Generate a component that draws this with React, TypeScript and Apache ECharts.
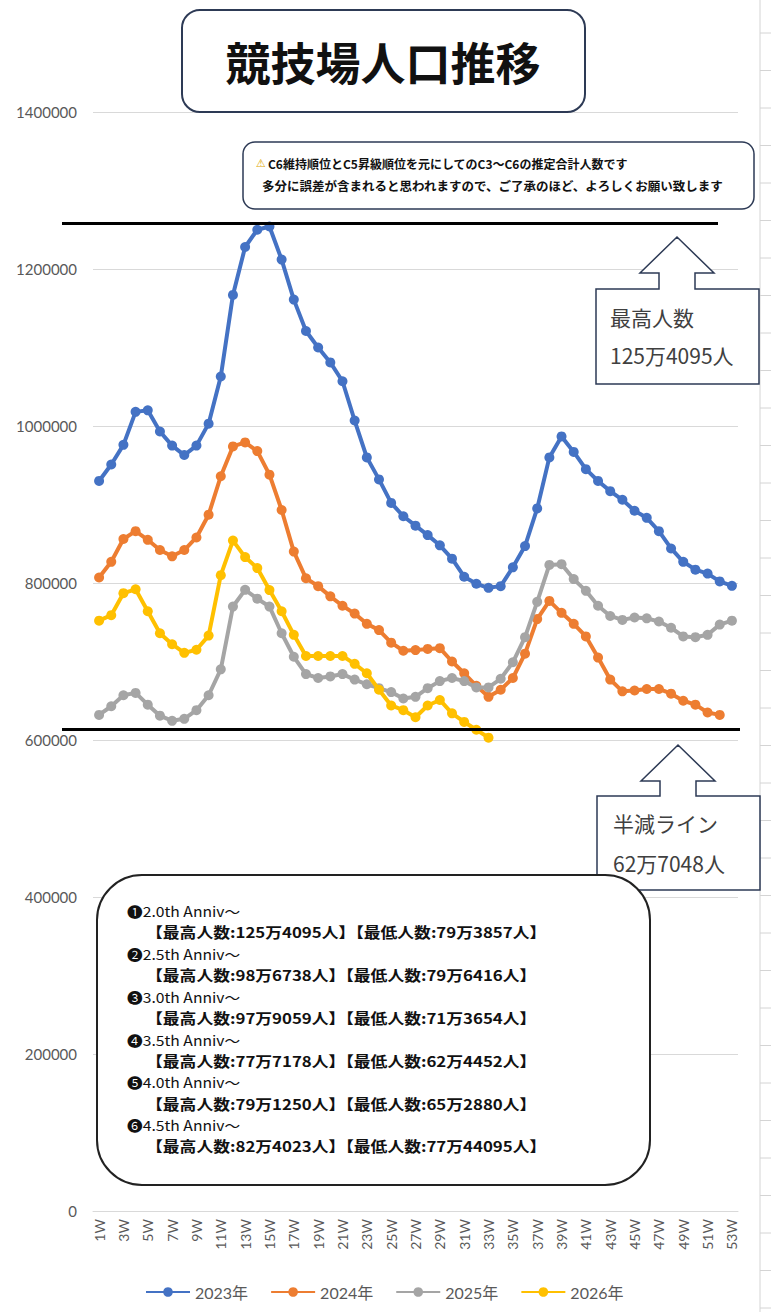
import { useEffect, useRef } from "react";
import * as echarts from "echarts";

const weeks = [
  "1W", "2W", "3W", "4W", "5W", "6W", "7W", "8W", "9W", "10W",
  "11W", "12W", "13W", "14W", "15W", "16W", "17W", "18W", "19W", "20W",
  "21W", "22W", "23W", "24W", "25W", "26W", "27W", "28W", "29W", "30W",
  "31W", "32W", "33W", "34W", "35W", "36W", "37W", "38W", "39W", "40W",
  "41W", "42W", "43W", "44W", "45W", "46W", "47W", "48W", "49W", "50W",
  "51W", "52W", "53W",
];

const seriesNames = ["2023年", "2024年", "2025年", "2026年"];
const seriesColors = ["#4472C4", "#ED7D31", "#A5A5A5", "#FFC000"];

const pop2023 = [
  930000, 951000, 976000, 1018000, 1020000, 993000, 975000, 963000, 975000, 1003000,
  1063000, 1167000, 1228000, 1250000, 1254095, 1212000, 1161000, 1121000, 1100000, 1081000,
  1057000, 1007000, 960000, 932000, 902000, 885000, 873000, 861000, 848000, 831000,
  808000, 799000, 793857, 796000, 820000, 847000, 895000, 960000, 986738, 967000,
  945000, 930000, 917000, 906000, 892000, 883000, 866000, 844000, 827000, 817000,
  812000, 802000, 796416,
];

const pop2024 = [
  807000, 827000, 856000, 866000, 855000, 842000, 834000, 842000, 858000, 887000,
  936000, 974000, 979059, 968000, 938000, 893000, 840000, 806000, 796000, 783000,
  771000, 761000, 748000, 740000, 724000, 713654, 714500, 716000, 717000, 700000,
  685000, 669000, 655000, 664000, 679000, 710000, 754000, 777178, 762000, 748000,
  732000, 705000, 677000, 662000, 663000, 665000, 665000, 659000, 650000, 645000,
  635000, 632000,
];

const pop2025 = [
  632000, 643000, 657000, 660000, 645000, 631000, 624452, 627000, 638000, 657000,
  690000, 770000, 791250, 780000, 770000, 736000, 706000, 684000, 679000, 681000,
  684000, 677000, 671000, 666000, 661000, 652880, 655000, 666000, 675000, 679000,
  675000, 667000, 667000, 678000, 699000, 731000, 776000, 823000, 824023, 805000,
  790000, 771000, 758000, 753000, 756000, 755000, 751000, 743000, 732000, 731000,
  734000, 747000, 752000,
];

const pop2026 = [
  752000, 759000, 787000, 792000, 764000, 736000, 722000, 711000, 715000, 733000,
  810000, 854000, 833000, 819000, 791000, 764000, 734000, 707000, 707000, 707000,
  707000, 697000, 685000, 664000, 644000, 638000, 629000, 644000, 651000, 634000,
  623000, 613000, 603000,
];

// hand-drawn reference lines (where they sit on the value axis)
const MAX_LINE_VALUE = 1258000;
const HALF_LINE_VALUE = 613500;

const titleText = "競技場人口推移";
const noteLines = [
  "C6維持順位とC5昇級順位を元にしてのC3〜C6の推定合計人数です",
  "多分に誤差が含まれると思われますので、ご了承のほど、よろしくお願い致します",
];
const maxCallout = ["最高人数", "125万4095人"];
const halfCallout = ["半減ライン", "62万7048人"];
const annivLines = [
  "❶2.0th Anniv〜",
  "【最高人数:125万4095人】【最低人数:79万3857人】",
  "❷2.5th Anniv〜",
  "【最高人数:98万6738人】【最低人数:79万6416人】",
  "❸3.0th Anniv〜",
  "【最高人数:97万9059人】【最低人数:71万3654人】",
  "❹3.5th Anniv〜",
  "【最高人数:77万7178人】【最低人数:62万4452人】",
  "❺4.0th Anniv〜",
  "【最高人数:79万1250人】【最低人数:65万2880人】",
  "❻4.5th Anniv〜",
  "【最高人数:82万4023人】【最低人数:77万44095人】",
];

const JP = "'Noto Sans CJK JP', 'Noto Sans', sans-serif";
const BORDER = "#2d3a55";

function arrowCallout(left: number, top: number, right: number, bottom: number, tipX: number, tipY: number, headY: number) {
  const headHalf = 37;
  const shaftHalf = 18;
  return {
    type: "polygon",
    z: 100,
    shape: {
      points: [
        [left, top],
        [tipX - shaftHalf, top],
        [tipX - shaftHalf, headY],
        [tipX - headHalf, headY],
        [tipX, tipY],
        [tipX + headHalf, headY],
        [tipX + shaftHalf, headY],
        [tipX + shaftHalf, top],
        [right, top],
        [right, bottom],
        [left, bottom],
      ],
    },
    style: { fill: "#fff", stroke: BORDER, lineWidth: 1.5 },
  };
}

function txt(text: string, x: number, y: number, font: string, fill = "#111", align = "left", scaleX = 1) {
  return {
    type: "text",
    z: 101,
    x,
    y,
    scaleX,
    style: {
      text,
      x: 0,
      y: 0,
      font,
      fill,
      align,
      verticalAlign: "middle",
      textAlign: align,
      textVerticalAlign: "middle",
    },
  };
}

export default function App() {
  const chartRef = useRef<HTMLDivElement | null>(null);

  useEffect(() => {
    if (!chartRef.current) return;
    const chart = echarts.init(chartRef.current, undefined, { renderer: "svg" });

    const datasets = [pop2023, pop2024, pop2025, pop2026];

    chart.setOption({
      animation: false,
      backgroundColor: "#fff",
      grid: { left: 93, right: 33, top: 112, bottom: 101, containLabel: false },
      legend: {
        data: seriesNames,
        left: 140,
        top: 1279,
        itemWidth: 44,
        itemHeight: 12,
        itemGap: 22,
        textStyle: { fontSize: 16, color: "#595959", fontFamily: "Lato, " + JP },
      },
      xAxis: {
        type: "category",
        data: weeks,
        boundaryGap: true,
        axisLine: { lineStyle: { color: "#d9d9d9" } },
        axisTick: { show: false },
        axisLabel: {
          rotate: 90,
          interval: 1,
          fontSize: 14,
          color: "#595959",
          fontFamily: "Lato, sans-serif",
          margin: 8,
        },
      },
      yAxis: {
        type: "value",
        min: 0,
        max: 1400000,
        interval: 200000,
        axisLine: { show: false },
        axisTick: { show: false },
        axisLabel: {
          fontSize: 15,
          color: "#595959",
          fontFamily: "Lato, sans-serif",
          margin: 16,
          formatter: (v: number) => String(v),
        },
        splitLine: { lineStyle: { color: "#d9d9d9", width: 1 } },
      },
      series: datasets.map((d, i) => ({
        name: seriesNames[i],
        type: "line",
        data: d,
        symbol: "circle",
        symbolSize: 10,
        showAllSymbol: true,
        lineStyle: { width: 4, color: seriesColors[i] },
        itemStyle: { color: seriesColors[i] },
        z: 2 + i,
      })),
    });

    const yMax = chart.convertToPixel({ yAxisIndex: 0 }, MAX_LINE_VALUE) as number;
    const yHalf = chart.convertToPixel({ yAxisIndex: 0 }, HALF_LINE_VALUE) as number;

    const elements: any[] = [];

    // spreadsheet column edge on the right
    elements.push({
      type: "line",
      z: 1,
      shape: { x1: 760, y1: 0, x2: 760, y2: 1312 },
      style: { stroke: "#d4d4d4", lineWidth: 1 },
    });
    for (let k = 0; k < 35; k++) {
      const y = 33 + k * 37.5;
      elements.push({
        type: "line",
        z: 1,
        shape: { x1: 760, y1: y, x2: 771, y2: y },
        style: { stroke: "#d4d4d4", lineWidth: 1 },
      });
    }

    // reference lines
    elements.push({
      type: "line",
      z: 90,
      shape: { x1: 62, y1: yMax, x2: 718, y2: yMax },
      style: { stroke: "#000", lineWidth: 3 },
    });
    elements.push({
      type: "line",
      z: 90,
      shape: { x1: 62, y1: yHalf, x2: 740, y2: yHalf },
      style: { stroke: "#000", lineWidth: 3 },
    });

    // title
    elements.push({
      type: "rect",
      z: 100,
      shape: { x: 182, y: 10, width: 403, height: 102, r: 18 },
      style: { fill: "#fff", stroke: BORDER, lineWidth: 2 },
    });
    elements.push(txt(titleText, 383, 61, `bold 45px ${JP}`, "#111", "center"));

    // note box
    elements.push({
      type: "rect",
      z: 100,
      shape: { x: 243, y: 142, width: 511, height: 67, r: 12 },
      style: { fill: "#fff", stroke: BORDER, lineWidth: 1.5 },
    });
    elements.push(txt("⚠", 256, 163, `bold 11px 'DejaVu Sans', sans-serif`, "#e0a800"));
    elements.push(txt(noteLines[0], 268, 163, `bold 12px ${JP}`, "#111"));
    elements.push(txt(noteLines[1], 262, 185, `bold 12.5px ${JP}`, "#111"));

    // callouts
    elements.push(arrowCallout(596, 289, 759, 384, 677, 237, 273));
    elements.push(txt(maxCallout[0], 610, 317, `21px ${JP}`, "#404040"));
    elements.push(txt(maxCallout[1], 610, 355, `21px ${JP}`, "#404040"));

    elements.push(arrowCallout(597, 796, 760, 890, 678, 745, 781));
    elements.push(txt(halfCallout[0], 613, 823, `21px ${JP}`, "#404040"));
    elements.push(txt(halfCallout[1], 613, 863, `21px ${JP}`, "#404040"));

    // anniversary box
    elements.push({
      type: "rect",
      z: 100,
      shape: { x: 97, y: 875, width: 553, height: 310, r: 45 },
      style: { fill: "#fff", stroke: "#222", lineWidth: 2 },
    });
    annivLines.forEach((line, i) => {
      const y = 911 + i * 21.4;
      if (i % 2 === 0) {
        elements.push(txt(line, 127, y, `14px ${JP}`, "#111", "left", 1.12));
      } else {
        elements.push(txt(line, 146, y, `bold 14.5px ${JP}`, "#111", "left", 1.16));
      }
    });

    chart.setOption({ graphic: { elements } });

    return () => {
      chart.dispose();
    };
  }, []);

  return (
    <div
      ref={chartRef}
      style={{ position: "absolute", left: 0, top: 0, width: "771px", height: "1312px" }}
    />
  );
}
